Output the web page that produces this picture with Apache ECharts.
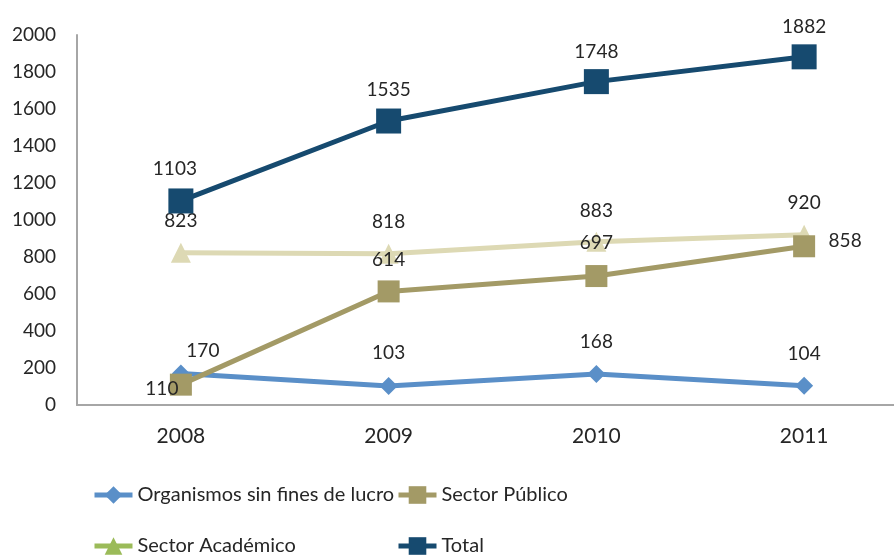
<!DOCTYPE html>
<html>
<head>
<meta charset="utf-8">
<script src="https://cdn.jsdelivr.net/npm/echarts@6/dist/echarts.min.js"></script>
<style>html,body{margin:0;padding:0;background:#fff}#c{width:894px;height:556px}</style>
</head>
<body>
<div id="c"></div>
<script>
const categories = ['2008', '2009', '2010', '2011'];
const organismos = [170, 103, 168, 104];
const publico = [110, 614, 697, 858];
const academico = [823, 818, 883, 920];
const total = [1103, 1535, 1748, 1882];
const yTicks = { min: 0, max: 2000, interval: 200 };

const FONT = 'Lato';
const TXT = '#262626';
const lbl = (offset) => ({ show: true, position: 'inside', offset: offset, fontFamily: FONT, fontSize: 19, color: TXT });

function withLabels(values, offsets) {
  return values.map((v, i) => ({ value: v, label: lbl(offsets[i]) }));
}

const chart = echarts.init(document.getElementById('c'));
const legendBase = (name, left, top, color) => ({
  data: [{ name: name, itemStyle: { color: color }, lineStyle: { color: color, width: 5 } }],
  left: left, top: top, orient: 'horizontal', padding: 0,
  itemWidth: 38, itemHeight: 22, itemGap: 0,
  textStyle: { fontFamily: FONT, fontSize: 20, color: TXT },
  selectedMode: false
});
chart.setOption({
  animation: false,
  grid: { left: 77, top: 35, bottom: 151, right: -14, outerBoundsMode: 'none', containLabel: false },
  legend: [
    legendBase('Organismos sin fines de lucro', 92, 485, '#5A8FC8'),
    legendBase('Sector Público', 396, 485, '#A39A66'),
    legendBase('Sector Académico', 92, 536, '#9BBB59'),
    legendBase('Total', 396, 536, '#164A6F')
  ],
  xAxis: {
    type: 'category', data: categories, boundaryGap: true,
    axisLine: { lineStyle: { color: '#A6A6A6', width: 2 } },
    axisTick: { show: false },
    axisLabel: { fontFamily: FONT, fontSize: 21, color: TXT, margin: 21 }
  },
  yAxis: {
    type: 'value', min: yTicks.min, max: yTicks.max, interval: yTicks.interval,
    splitLine: { show: false },
    axisLine: { show: true, lineStyle: { color: '#A6A6A6', width: 2 } },
    axisTick: { show: false },
    axisLabel: { fontFamily: FONT, fontSize: 19, color: TXT, margin: 21, formatter: (v) => String(v) }
  },
  series: [
    {
      name: 'Organismos sin fines de lucro', type: 'line',
      data: withLabels(organismos, [[22, -23], [0, -33], [0, -32], [0, -32]]),
      symbol: 'diamond', symbolSize: 18,
      lineStyle: { color: '#5A8FC8', width: 5 }, itemStyle: { color: '#5A8FC8' }, z: 2
    },
    {
      name: 'Sector Público', type: 'line',
      data: withLabels(publico, [[-19, 4], [0, -32], [0, -33], [41, -5]]),
      symbol: 'rect', symbolSize: 22,
      lineStyle: { color: '#A39A66', width: 5 }, itemStyle: { color: '#A39A66' }, z: 3
    },
    {
      name: 'Sector Académico', type: 'line',
      data: withLabels(academico, [[0, -32], [0, -32], [0, -31], [0, -32]]),
      symbol: 'triangle', symbolSize: 20,
      lineStyle: { color: '#DDD9B4', width: 5 }, itemStyle: { color: '#DDD9B4' }, z: 2
    },
    {
      name: 'Total', type: 'line',
      data: withLabels(total, [[-6, -32], [0, -31], [0, -30], [0, -30]]),
      symbol: 'rect', symbolSize: 25,
      lineStyle: { color: '#164A6F', width: 5 }, itemStyle: { color: '#164A6F' }, z: 4
    }
  ]
});
</script>
</body>
</html>
